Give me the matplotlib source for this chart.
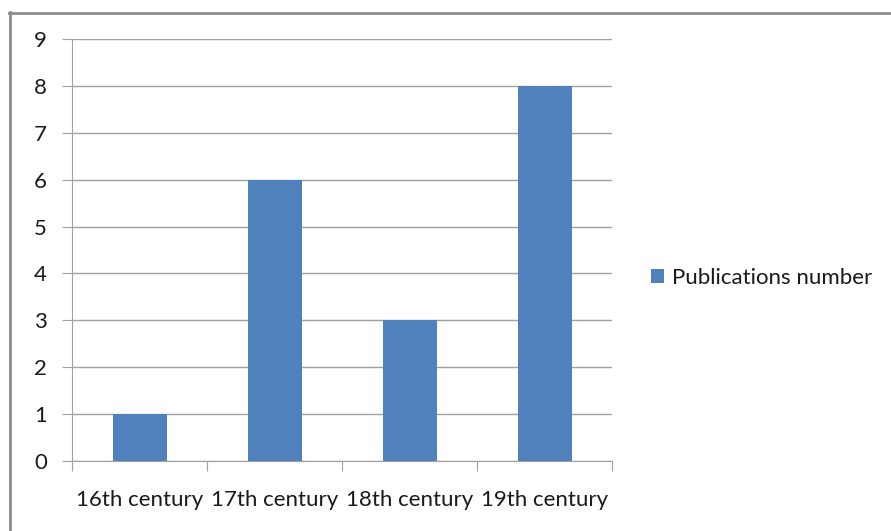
import matplotlib.pyplot as plt
from matplotlib.lines import Line2D
from matplotlib.patches import Patch

# Data
centuries = ['16th century', '17th century', '18th century', '19th century']
publications = [1, 6, 3, 8]
y_ticks = list(range(0, 10))

bar_color = '#4F81BD'
grid_color = '#A0A0A0'

plt.rcParams['font.family'] = ['Lato', 'DejaVu Sans']

fig = plt.figure(figsize=(8.91, 5.31), dpi=100)
ax = fig.add_axes([72 / 891, 1 - 461 / 531, 540 / 891, 422 / 531])

x = range(len(centuries))
ax.bar(x, publications, width=0.4, color=bar_color, zorder=3)

ax.set_xlim(-0.5, len(centuries) - 0.5)
ax.set_ylim(0, 9)
ax.set_yticks(y_ticks)
ax.yaxis.grid(True, color=grid_color, linewidth=1, zorder=0)

# category boundary ticks on x axis
ax.set_xticks([i - 0.5 for i in range(len(centuries) + 1)])
ax.set_xticklabels([])
ax.set_xticks(list(x), minor=True)
ax.set_xticklabels(centuries, minor=True, fontsize=16, color='#1a1a1a')
ax.tick_params(axis='x', which='minor', length=0, pad=21)
ax.tick_params(axis='x', which='major', length=7, color=grid_color, direction='out')
ax.tick_params(axis='y', length=7, color=grid_color, pad=11, labelsize=16, labelcolor='#1a1a1a')

for side in ['top', 'right']:
    ax.spines[side].set_visible(False)
ax.spines['left'].set_color(grid_color)
ax.spines['bottom'].set_color(grid_color)

# legend
handle = Patch(facecolor=bar_color, edgecolor='none')
fig.legend([handle], ['Publications number'], loc='center left',
           bbox_to_anchor=(631 / 891, 1 - 278 / 531), frameon=False,
           fontsize=16, handlelength=0.6, handleheight=0.6, handletextpad=0.35,
           labelcolor='#1a1a1a')

# outer chart border (only top and left visible in the crop)
fig.add_artist(Line2D([10 / 891, 10 / 891], [0, 1 - 12 / 531], color='#8C8C8C', linewidth=2))
fig.add_artist(Line2D([9 / 891, 1], [1 - 13 / 531, 1 - 13 / 531], color='#8C8C8C', linewidth=2))

fig.savefig('out.png', dpi=100)
